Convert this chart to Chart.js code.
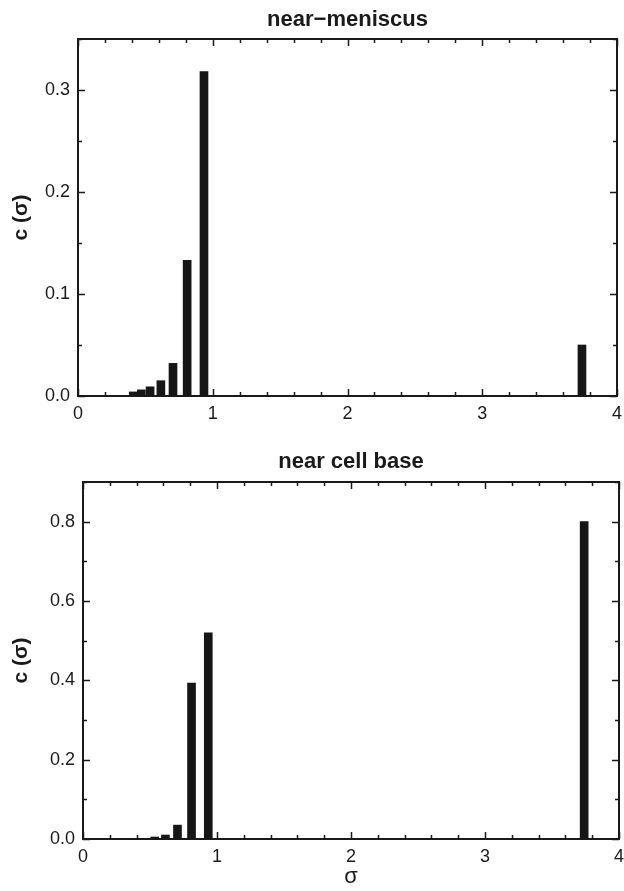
<!DOCTYPE html>
<html>
<head>
<meta charset="utf-8">
<script src="https://cdn.jsdelivr.net/npm/chart.js@4.4.0/dist/chart.umd.min.js"></script>
<style>
  body { margin: 0; background: #fff; }
  canvas { display: block; }
</style>
</head>
<body>
<canvas id="topChart" width="624" height="440"></canvas>
<canvas id="bottomChart" width="624" height="451"></canvas>
<script>
// sedimentation coefficient positions (shared by both panels)
const sigma = [0.41, 0.47, 0.535, 0.615, 0.705, 0.81, 0.935, 3.74];
// c(sigma) near the meniscus
const meniscusValues = [0.004, 0.006, 0.009, 0.015, 0.032, 0.133, 0.318, 0.050];
// c(sigma) near the cell base
const cellBaseValues = [0, 0, 0.005, 0.010, 0.035, 0.393, 0.520, 0.800];

const xTickLabels = ['0', '1', '2', '3', '4'];

const FONT = "'Liberation Sans', Arial, Helvetica, sans-serif";
const INK = '#1a1a1a';

// draws the little inward ticks on all four sides of the frame
const innerTicks = {
  id: 'innerTicks',
  afterDatasetsDraw(chart, args, opts) {
    const ctx = chart.ctx;
    const area = chart.chartArea;
    const xs = chart.scales.x, ys = chart.scales.y;
    ctx.save();
    ctx.strokeStyle = INK;
    ctx.lineWidth = 1.5;
    ctx.beginPath();
    for (let i = 0; i <= 20; i++) {
      const v = i * 0.2;
      const len = (i % 5 === 0) ? 7 : 4;
      const px = Math.round(xs.getPixelForValue(v)) + 0.5;
      ctx.moveTo(px, area.bottom); ctx.lineTo(px, area.bottom - len);
      ctx.moveTo(px, area.top); ctx.lineTo(px, area.top + len);
    }
    const n = Math.round(opts.yMax / opts.yMinor);
    for (let i = 0; i <= n; i++) {
      const v = i * opts.yMinor;
      const len = (i % 2 === 0) ? 7 : 4;
      const py = Math.round(ys.getPixelForValue(v)) + 0.5;
      ctx.moveTo(area.left, py); ctx.lineTo(area.left + len, py);
      ctx.moveTo(area.right, py); ctx.lineTo(area.right - len, py);
    }
    ctx.stroke();
    ctx.restore();
  }
};

function makePanel(id, title, values, opt) {
  const points = sigma.map((s, i) => ({ x: s, y: values[i] }));
  const border = { display: true, color: INK, width: 2 };
  return new Chart(id, {
    type: 'bar',
    data: {
      datasets: [{
        data: points,
        backgroundColor: '#161616',
        barThickness: 8
      }]
    },
    options: {
      responsive: false,
      animation: false,
      layout: { padding: 0 },
      plugins: {
        legend: { display: false },
        tooltip: { enabled: false },
        innerTicks: { yMax: opt.yMax, yMinor: opt.yStep / 2 }
      },
      scales: {
        x: {
          type: 'linear',
          position: 'bottom',
          offset: false,
          min: 0, max: 4,
          grid: { display: false, drawTicks: false, offset: false },
          border: border,
          ticks: {
            stepSize: 1,
            padding: 7,
            color: INK,
            font: { family: FONT, size: 18 },
            callback: (v) => xTickLabels[v]
          },
          title: {
            display: opt.xTitle,
            text: 'σ',
            color: INK,
            font: { family: FONT, size: 22 },
            padding: { top: 0, bottom: 1 }
          },
          afterFit: (s) => {
            s.height = opt.xHeight;
            // let the end labels hang over the edge instead of shrinking the plot
            s.paddingLeft = 0;
            s.paddingRight = 0;
          }
        },
        xTop: {
          type: 'linear',
          position: 'top',
          offset: false,
          min: 0, max: 4,
          grid: { display: false, drawTicks: false, offset: false },
          border: border,
          ticks: { display: false },
          title: {
            display: true,
            text: title,
            color: INK,
            font: { family: FONT, size: 22, weight: 'bold' },
            padding: { top: opt.titlePad, bottom: 0 }
          },
          afterFit: (s) => { s.height = opt.topHeight; }
        },
        y: {
          type: 'linear',
          position: 'left',
          min: 0, max: opt.yMax,
          grid: { display: false, drawTicks: false },
          border: border,
          ticks: {
            stepSize: opt.yStep,
            padding: 8,
            color: INK,
            font: { family: FONT, size: 18 },
            callback: (v) => v.toFixed(1)
          },
          afterBuildTicks: (s) => {
            s.ticks = s.ticks.filter(t => Math.abs(t.value / opt.yStep - Math.round(t.value / opt.yStep)) < 1e-6);
          },
          title: {
            display: true,
            text: 'c (σ)',
            color: INK,
            font: { family: FONT, size: 21, weight: 'bold' },
            padding: { top: 9, bottom: 0 }
          },
          afterFit: (s) => { s.width = opt.leftWidth; }
        },
        yRight: {
          type: 'linear',
          position: 'right',
          min: 0, max: opt.yMax,
          grid: { display: false, drawTicks: false },
          border: border,
          ticks: { display: false },
          afterFit: (s) => { s.width = opt.rightWidth; }
        }
      }
    },
    plugins: [innerTicks]
  });
}

makePanel('topChart', 'near\u2212meniscus', meniscusValues, {
  yMax: 0.35, yStep: 0.1,
  leftWidth: 78, rightWidth: 7, topHeight: 39, xHeight: 44,
  titlePad: 7, xTitle: false
});

makePanel('bottomChart', 'near cell base', cellBaseValues, {
  yMax: 0.9, yStep: 0.2,
  leftWidth: 83, rightWidth: 5, topHeight: 42, xHeight: 52,
  titlePad: 9, xTitle: true
});
</script>
</body>
</html>
